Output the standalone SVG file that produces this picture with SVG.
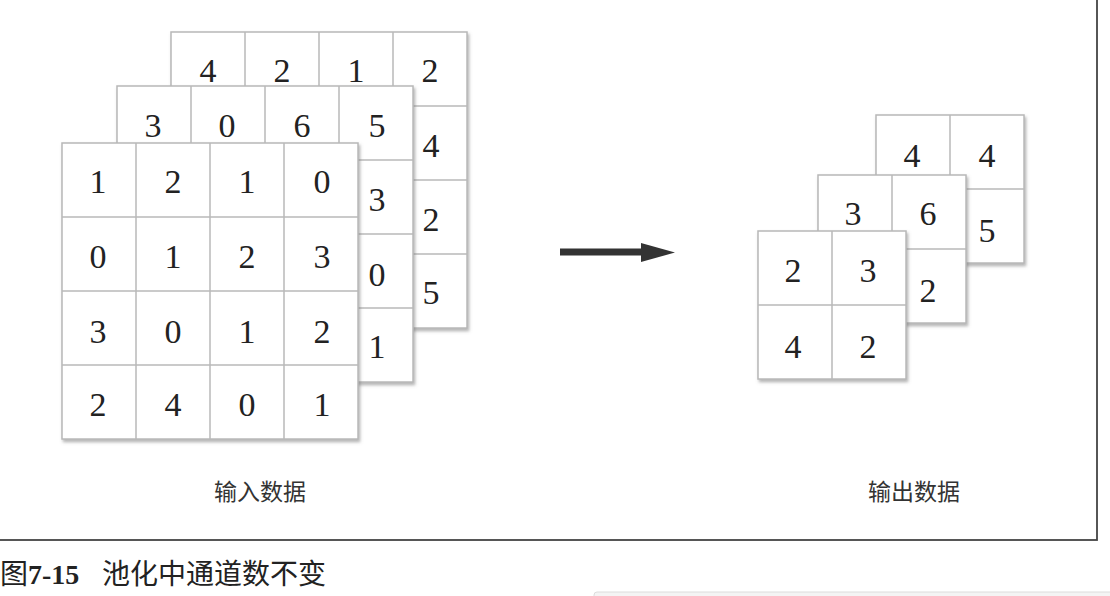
<svg xmlns="http://www.w3.org/2000/svg" xmlns:xlink="http://www.w3.org/1999/xlink" width="1110" height="596" viewBox="0 0 1110 596">
<style>
.grid rect{fill:#fff;stroke:#b8b8b8;stroke-width:1.5}
.grid line{stroke:#b8b8b8;stroke-width:1.5}
.d{font-family:"Liberation Serif","DejaVu Serif",serif;font-size:34px;fill:#222;text-anchor:middle}
.lbl{font-family:"Noto Sans CJK SC",sans-serif;font-size:23px;fill:#333;text-anchor:middle}
.cap{font-family:"Noto Sans CJK SC",sans-serif;font-size:28px;fill:#222}
.capn{font-family:"Liberation Serif","DejaVu Serif",serif;font-size:28px;font-weight:bold;fill:#222}
</style>
<defs>
<filter id="sh" x="-5%" y="-5%" width="115%" height="115%">
<feDropShadow dx="1.5" dy="2.5" stdDeviation="1.5" flood-color="#777" flood-opacity="0.55"/>
</filter>
<g id="g4" class="grid">
<rect x="0" y="0" width="296" height="296" filter="url(#sh)"/>
<line x1="74" y1="0" x2="74" y2="296"/><line x1="148" y1="0" x2="148" y2="296"/><line x1="222" y1="0" x2="222" y2="296"/>
<line x1="0" y1="74" x2="296" y2="74"/><line x1="0" y1="148" x2="296" y2="148"/><line x1="0" y1="222" x2="296" y2="222"/>
</g>
<g id="g2" class="grid">
<rect x="0" y="0" width="148" height="148" filter="url(#sh)"/>
<line x1="74" y1="0" x2="74" y2="148"/>
<line x1="0" y1="74" x2="148" y2="74"/>
</g>
</defs>
<rect x="0" y="0" width="1110" height="596" fill="#fff"/>
<rect x="-10" y="-10" width="1107" height="550" fill="none" stroke="#444" stroke-width="1.8"/>

<g id="input-ch3">
<use xlink:href="#g4" x="171" y="32"/>
<text class="d" x="208" y="82">4</text><text class="d" x="282" y="82">2</text><text class="d" x="356" y="82">1</text><text class="d" x="430" y="82">2</text>
<text class="d" x="431" y="157">4</text><text class="d" x="431" y="231">2</text><text class="d" x="431" y="304">5</text>
</g>
<g id="input-ch2">
<use xlink:href="#g4" x="117" y="86"/>
<text class="d" x="153" y="137">3</text><text class="d" x="227" y="137">0</text><text class="d" x="302" y="137">6</text><text class="d" x="377" y="137">5</text>
<text class="d" x="377" y="211">3</text><text class="d" x="377" y="286">0</text><text class="d" x="377" y="358">1</text>
</g>
<g id="input-ch1">
<use xlink:href="#g4" x="62" y="143"/>
<text class="d" x="98" y="193">1</text><text class="d" x="173" y="193">2</text><text class="d" x="247" y="193">1</text><text class="d" x="322" y="193">0</text>
<text class="d" x="98" y="268">0</text><text class="d" x="173" y="268">1</text><text class="d" x="247" y="268">2</text><text class="d" x="322" y="268">3</text>
<text class="d" x="98" y="343">3</text><text class="d" x="173" y="343">0</text><text class="d" x="247" y="343">1</text><text class="d" x="322" y="343">2</text>
<text class="d" x="98" y="416">2</text><text class="d" x="173" y="416">4</text><text class="d" x="247" y="416">0</text><text class="d" x="322" y="416">1</text>
</g>

<g id="connectors">
<rect x="560" y="248.5" width="82" height="7" fill="#333"/>
<polygon points="641,243 675,252.5 641,262" fill="#333"/>
</g>

<g id="output-ch3">
<use xlink:href="#g2" x="876" y="115"/>
<text class="d" x="912" y="167">4</text><text class="d" x="987" y="167">4</text>
<text class="d" x="987" y="242">5</text>
</g>
<g id="output-ch2">
<use xlink:href="#g2" x="818" y="175"/>
<text class="d" x="853" y="225">3</text><text class="d" x="928" y="225">6</text>
<text class="d" x="928" y="302">2</text>
</g>
<g id="output-ch1">
<use xlink:href="#g2" x="758" y="231"/>
<text class="d" x="793" y="282">2</text><text class="d" x="868" y="282">3</text>
<text class="d" x="793" y="358">4</text><text class="d" x="868" y="358">2</text>
</g>

<g id="labels">
<text class="lbl" x="260" y="500">输入数据</text>
<text class="lbl" x="914" y="500">输出数据</text>
</g>

<g id="caption">
<text class="cap" x="0" y="584">图</text>
<text class="capn" x="28" y="584">7-15</text>
<text class="cap" x="102" y="584">池化中通道数不变</text>
</g>
<rect x="594" y="592" width="530" height="20" rx="3" fill="#f4f4f4" stroke="#dcdcdc" stroke-width="1"/>
</svg>
